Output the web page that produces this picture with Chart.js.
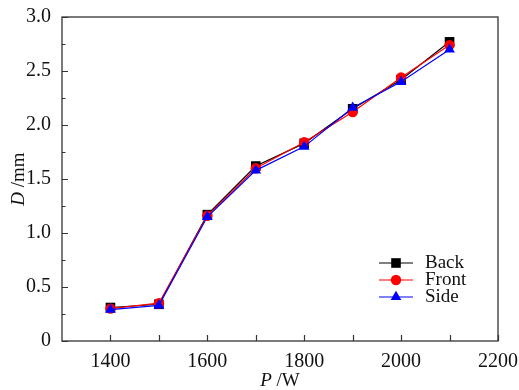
<!DOCTYPE html>
<html>
<head>
<meta charset="utf-8">
<script src="https://cdn.jsdelivr.net/npm/chart.js@4.4.1/dist/chart.umd.min.js"></script>
<style>
  html, body { margin: 0; padding: 0; background: #fff; }
  #wrap { width: 519px; height: 390px; }
</style>
</head>
<body>
<div id="wrap"><canvas id="chart" width="519" height="390"></canvas></div>
<script>
// 功率 P (W) 与尺寸 D (mm)
const power = [1400, 1500, 1600, 1700, 1800, 1900, 2000, 2100];
const backD  = [0.31, 0.34, 1.17, 1.62, 1.83, 2.15, 2.42, 2.77];
const frontD = [0.30, 0.35, 1.16, 1.60, 1.84, 2.12, 2.44, 2.74];
const sideD  = [0.29, 0.33, 1.15, 1.58, 1.80, 2.16, 2.40, 2.70];

const xTicks = [1400, 1600, 1800, 2000, 2200];
const xMinor = [1500, 1700, 1900, 2100];
const yTicks = [0, 0.5, 1.0, 1.5, 2.0, 2.5, 3.0];
const yMinor = [0.25, 0.75, 1.25, 1.75, 2.25, 2.75];

const FONT = '"Liberation Serif", "Times New Roman", serif';

const toPoints = ys => power.map((p, i) => ({ x: p, y: ys[i] }));

const series = [
  { label: 'Back',  data: backD,  color: '#000000', style: 'rect',     radius: 6.8, order: 2 },
  { label: 'Front', data: frontD, color: '#ff0000', style: 'circle',   radius: 5.2, order: 1 },
  { label: 'Side',  data: sideD,  color: '#0000ff', style: 'triangle', radius: 6.2, order: 0 },
];

// 框线、内向刻度、坐标轴标题和图例
const decorations = {
  id: 'decorations',
  afterDraw(chart) {
    const { ctx, chartArea: a, scales: { x, y } } = chart;
    ctx.save();
    ctx.strokeStyle = '#333';
    ctx.lineWidth = 1.3;
    ctx.strokeRect(a.left, a.top, a.right - a.left, a.bottom - a.top);

    ctx.lineWidth = 1.2;
    ctx.beginPath();
    yTicks.forEach(v => { const py = Math.round(y.getPixelForValue(v)) + 0.5; ctx.moveTo(a.left, py); ctx.lineTo(a.left + 6, py); });
    yMinor.forEach(v => { const py = Math.round(y.getPixelForValue(v)) + 0.5; ctx.moveTo(a.left, py); ctx.lineTo(a.left + 3.5, py); });
    xTicks.forEach(v => { const px = Math.round(x.getPixelForValue(v)) + 0.5; ctx.moveTo(px, a.bottom); ctx.lineTo(px, a.bottom - 6); });
    xMinor.forEach(v => { const px = Math.round(x.getPixelForValue(v)) + 0.5; ctx.moveTo(px, a.bottom); ctx.lineTo(px, a.bottom - 6); });
    ctx.stroke();

    // 坐标轴标题: 斜体变量 + 正体单位
    ctx.fillStyle = '#111';
    ctx.textBaseline = 'alphabetic';
    const drawTitle = (vari, unit, cx, cy, rot) => {
      ctx.save();
      ctx.translate(cx, cy);
      ctx.rotate(rot);
      ctx.font = 'italic 19px ' + FONT;
      const w1 = ctx.measureText(vari + ' ').width;
      ctx.font = '19px ' + FONT;
      const w2 = ctx.measureText(unit).width;
      let sx = -(w1 + w2) / 2;
      ctx.font = 'italic 19px ' + FONT;
      ctx.textAlign = 'left';
      ctx.fillText(vari, sx, 6);
      ctx.font = '19px ' + FONT;
      ctx.fillText(unit, sx + w1, 6);
      ctx.restore();
    };
    drawTitle('P', '/W', (a.left + a.right) / 2, 380, 0);
    drawTitle('D', '/mm', 18, (a.top + a.bottom) / 2, -Math.PI / 2);

    // 图例
    const lx = a.right - 119, ly = a.bottom - 78;
    series.forEach((s, i) => {
      const yy = ly + i * 17;
      ctx.strokeStyle = s.color;
      ctx.lineWidth = 1.2;
      ctx.beginPath();
      ctx.moveTo(lx, yy);
      ctx.lineTo(lx + 34, yy);
      ctx.stroke();
      ctx.fillStyle = s.color;
      Chart.helpers.drawPoint(ctx, { pointStyle: s.style, radius: s.radius, borderWidth: 0 }, lx + 17, yy);
      ctx.fillStyle = '#111';
      ctx.font = '19px ' + FONT;
      ctx.textAlign = 'left';
      ctx.textBaseline = 'middle';
      ctx.fillText(s.label, lx + 46, yy);
    });
    ctx.restore();
  }
};

new Chart(document.getElementById('chart'), {
  type: 'line',
  data: {
    datasets: series.map(s => ({
      label: s.label,
      data: toPoints(s.data),
      borderColor: s.color,
      backgroundColor: s.color,
      borderWidth: 1.2,
      pointStyle: s.style,
      pointRadius: s.radius,
      pointBorderWidth: 0,
      pointBackgroundColor: s.color,
      tension: 0,
      order: s.order,
    }))
  },
  options: {
    responsive: false,
    animation: false,
    layout: { padding: { top: 17, right: 18, left: 0, bottom: 0 } },
    plugins: { legend: { display: false }, tooltip: { enabled: false } },
    scales: {
      x: {
        type: 'linear',
        min: 1300,
        max: 2200,
        afterBuildTicks: s => { s.ticks = xTicks.map(v => ({ value: v })); },
        afterFit: s => { s.height = 49; },
        grid: { display: false },
        border: { display: false },
        ticks: {
          color: '#111',
          font: { family: FONT, size: 20 },
          padding: 1,
          maxRotation: 0,
          callback: v => String(v),
        },
      },
      y: {
        min: 0,
        max: 3,
        afterBuildTicks: s => { s.ticks = yTicks.map(v => ({ value: v })); },
        afterFit: s => { s.width = 62; },
        grid: { display: false },
        border: { display: false },
        ticks: {
          color: '#111',
          font: { family: FONT, size: 20 },
          padding: 3,
          callback: v => v === 0 ? '0' : v.toFixed(1),
        },
      },
    },
  },
  plugins: [decorations],
});
</script>
</body>
</html>
